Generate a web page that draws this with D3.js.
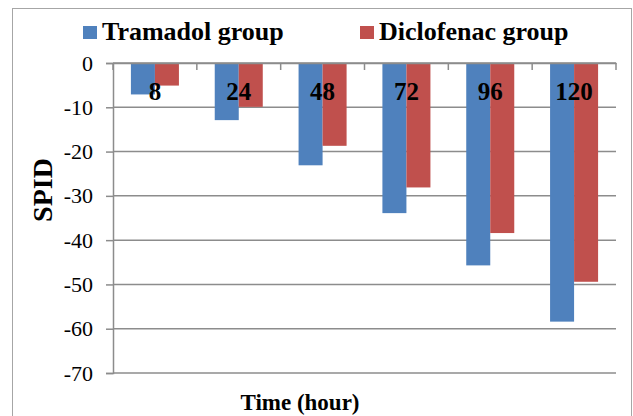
<!DOCTYPE html>
<html>
<head>
<meta charset="utf-8">
<script src="https://cdn.jsdelivr.net/npm/d3@7/dist/d3.min.js"></script>
<style>
  html, body { margin: 0; padding: 0; background: #fff; }
  svg { display: block; }
  text { font-family: "Times New Roman", "Liberation Serif", serif; fill: #000; }
</style>
</head>
<body>
<svg id="chart" width="633" height="416"></svg>
<script>
const categories = ["8", "24", "48", "72", "96", "120"];
const seriesNames = ["Tramadol group", "Diclofenac group"];
const tramadol = [-7.1, -12.9, -23.1, -33.9, -45.7, -58.4];
const diclofenac = [-5.1, -9.9, -18.7, -28.1, -38.4, -49.4];
const yTicks = [0, -10, -20, -30, -40, -50, -60, -70];
const colors = ["#4F81BD", "#C0504D"];

const svg = d3.select("#chart");
const W = 633, H = 416;
const plot = { left: 113, right: 616, top: 63, bottom: 373 };

// outer border
svg.append("rect").attr("x", 12.5).attr("y", 8.5).attr("width", 619).attr("height", 420)
  .attr("fill", "#fff").attr("stroke", "#a6a6a6").attr("stroke-width", 1);

const y = d3.scaleLinear().domain([-70, 0]).range([plot.bottom, plot.top]);
const x0 = d3.scaleBand().domain(categories).range([plot.left, plot.right]).padding(0);
const x1 = d3.scaleBand().domain(seriesNames).range([0, x0.bandwidth()])
  .paddingInner(0).paddingOuter(0.746);

const gridColor = "#8c8c8c";

// gridlines
svg.append("g").selectAll("line").data(yTicks).join("line")
  .attr("x1", plot.left).attr("x2", plot.right)
  .attr("y1", d => y(d)).attr("y2", d => y(d))
  .attr("stroke", gridColor).attr("stroke-width", 1.5);

// y axis
const yAxis = d3.axisLeft(y).tickValues(yTicks).tickSize(7).tickPadding(13)
  .tickFormat(d => d === 0 ? "0" : "-" + Math.abs(d));
const gy = svg.append("g").attr("transform", `translate(${plot.left},0)`).call(yAxis);
gy.select(".domain").attr("stroke", gridColor).attr("stroke-width", 1.5);
gy.selectAll(".tick line").attr("stroke", gridColor).attr("stroke-width", 1.5);
gy.selectAll(".tick text").style("font-family", '"Times New Roman", "Liberation Serif", serif')
  .style("font-size", "22px").attr("fill", "#000");

// bars
const data = categories.map((c, i) => ({ cat: c, vals: [tramadol[i], diclofenac[i]] }));
const groups = svg.append("g").selectAll("g").data(data).join("g")
  .attr("transform", d => `translate(${x0(d.cat)},0)`);
groups.selectAll("rect").data(d => d.vals.map((v, j) => ({ name: seriesNames[j], v, j })))
  .join("rect")
  .attr("x", d => x1(d.name))
  .attr("width", x1.bandwidth())
  .attr("y", y(0))
  .attr("height", d => y(d.v) - y(0))
  .attr("fill", d => colors[d.j]);

// category axis at y = 0
const xAxis = d3.axisBottom(x0).tickSize(0).tickPadding(0);
const gx = svg.append("g").attr("transform", `translate(0,${y(0)})`).call(xAxis);
gx.select(".domain").attr("stroke", gridColor).attr("stroke-width", 1.5);
gx.selectAll(".tick text")
  .attr("y", 37).attr("dy", null)
  .style("font-family", '"Times New Roman", "Liberation Serif", serif')
  .style("font-size", "25px").style("font-weight", "bold").attr("fill", "#000");
// boundary ticks
const bounds = categories.map(c => x0(c) + x0.bandwidth()).concat([x0(categories[0])]);
svg.append("g").selectAll("line").data(bounds).join("line")
  .attr("x1", d => d).attr("x2", d => d)
  .attr("y1", y(0)).attr("y2", y(0) + 7)
  .attr("stroke", gridColor).attr("stroke-width", 1.5);

// legend
const legX = [83, 360];
const leg = svg.append("g").selectAll("g").data(seriesNames).join("g")
  .attr("transform", (d, i) => `translate(${legX[i]},26)`);
leg.append("rect").attr("width", 14).attr("height", 13).attr("fill", (d, i) => colors[i]);
leg.append("text").attr("x", 19).attr("y", 14)
  .style("font-size", "26px").style("font-weight", "bold").text(d => d);

// axis titles
svg.append("text").attr("transform", "translate(52,190) rotate(-90)")
  .attr("text-anchor", "middle")
  .style("font-size", "28px").style("font-weight", "bold").text("SPID");
svg.append("text").attr("x", 300).attr("y", 410).attr("text-anchor", "middle")
  .style("font-size", "23px").style("font-weight", "bold").text("Time (hour)");
</script>
</body>
</html>
